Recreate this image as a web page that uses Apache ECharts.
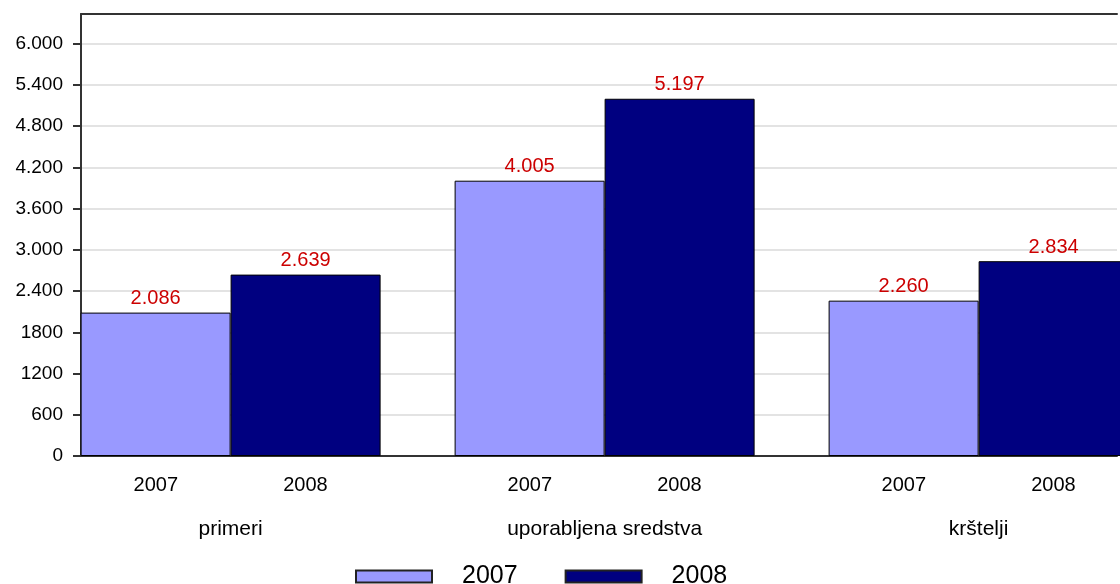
<!DOCTYPE html>
<html>
<head>
<meta charset="utf-8">
<script src="https://cdn.jsdelivr.net/npm/echarts@6/dist/echarts.min.js"></script>
<style>html,body{margin:0;padding:0;background:#fff;}#c{width:1120px;height:584px;}</style>
</head>
<body>
<div id="c"></div>
<script>
var categories = ['primeri', 'uporabljena sredstva', 'krštelji'];
var seriesNames = ['2007', '2008'];
var values2007 = [2086, 4005, 2260];
var values2008 = [2639, 5197, 2834];
var yTickValues = [0, 600, 1200, 1800, 2400, 3000, 3600, 4200, 4800, 5400, 6000];
var yTickLabels = ['0', '600', '1200', '1800', '2.400', '3.000', '3.600', '4.200', '4.800', '5.400', '6.000'];

function fmtVal(v) {
  var s = String(v);
  return s.length > 3 ? s.slice(0, s.length - 3) + '.' + s.slice(s.length - 3) : s;
}

var chart = echarts.init(document.getElementById('c'), null, {renderer: 'canvas'});
var FONT = 'Liberation Sans';
var gridLeft = 81, gridRight = 0, pxPerGroup = 375;
var xMin = 0.6;
var xMax = 3.37;

function mk(vals) { return vals.map(function (v, i) { return [i + 1, v]; }); }

var axisLineStyle = {color: '#333', width: 2};

chart.setOption({
  animation: false,
  grid: {left: gridLeft, right: gridRight, top: 14, bottom: 128, show: false, containLabel: false},
  legend: {
    top: 564, left: 355, padding: 0, itemWidth: 76, itemHeight: 12, itemGap: 47,
    itemStyle: {borderColor: '#222', borderWidth: 2},
    textStyle: {fontFamily: FONT, fontSize: 25, color: '#000', padding: [0, 0, 0, 25]},
    data: seriesNames.map(function (n) { return {name: n, icon: 'rect'}; })
  },
  xAxis: [{
    type: 'value', min: xMin, max: xMax, interval: 0.2,
    axisLine: {show: true, lineStyle: axisLineStyle},
    axisTick: {show: false}, splitLine: {show: false},
    axisLabel: {
      margin: 19, fontFamily: FONT, fontSize: 20, color: '#000',
      formatter: function (v) {
        var f = Math.round(v * 10) % 10;
        return f === 8 ? seriesNames[0] : (f === 2 ? seriesNames[1] : '');
      }
    }
  }, {
    type: 'value', min: xMin, max: xMax, interval: 0.2, position: 'bottom',
    axisLine: {show: false}, axisTick: {show: false}, splitLine: {show: false},
    axisLabel: {
      margin: 63, fontFamily: FONT, fontSize: 21, color: '#000',
      formatter: function (v) {
        var r = Math.round(v * 10);
        if (r % 10 !== 0) return '';
        return categories[r / 10 - 1] || '';
      }
    }
  }, {
    type: 'value', min: xMin, max: xMax, position: 'top',
    axisLine: {show: true, lineStyle: axisLineStyle},
    axisTick: {show: false}, splitLine: {show: false}, axisLabel: {show: false}
  }],
  yAxis: {
    type: 'value', min: 0, max: 6430, interval: 600,
    axisLine: {show: true, lineStyle: axisLineStyle},
    axisTick: {show: true, length: 8, customValues: yTickValues, lineStyle: {color: '#333', width: 2}},
    splitLine: {show: true, lineStyle: {color: '#e3e3e3', width: 2}},
    axisLabel: {
      margin: 18, fontFamily: FONT, fontSize: 19, color: '#000',
      customValues: yTickValues,
      formatter: function (v) {
        var i = yTickValues.indexOf(v);
        return i >= 0 ? yTickLabels[i] : '';
      }
    }
  },
  series: [{
    name: seriesNames[0], type: 'bar', xAxisIndex: 0, data: mk(values2007),
    barWidth: 150, barGap: '0%',
    itemStyle: {color: '#9999ff', borderColor: '#000', borderWidth: 1},
    label: {show: true, position: 'top', distance: 4, color: '#cc0000', fontFamily: FONT, fontSize: 20,
      formatter: function (p) { return fmtVal(p.value[1]); }}
  }, {
    name: seriesNames[1], type: 'bar', xAxisIndex: 0, data: mk(values2008),
    barWidth: 150, barGap: '0%',
    itemStyle: {color: '#000080', borderColor: '#000', borderWidth: 1},
    label: {show: true, position: 'top', distance: 4, color: '#cc0000', fontFamily: FONT, fontSize: 20,
      formatter: function (p) { return fmtVal(p.value[1]); }}
  }]
});
</script>
</body>
</html>
